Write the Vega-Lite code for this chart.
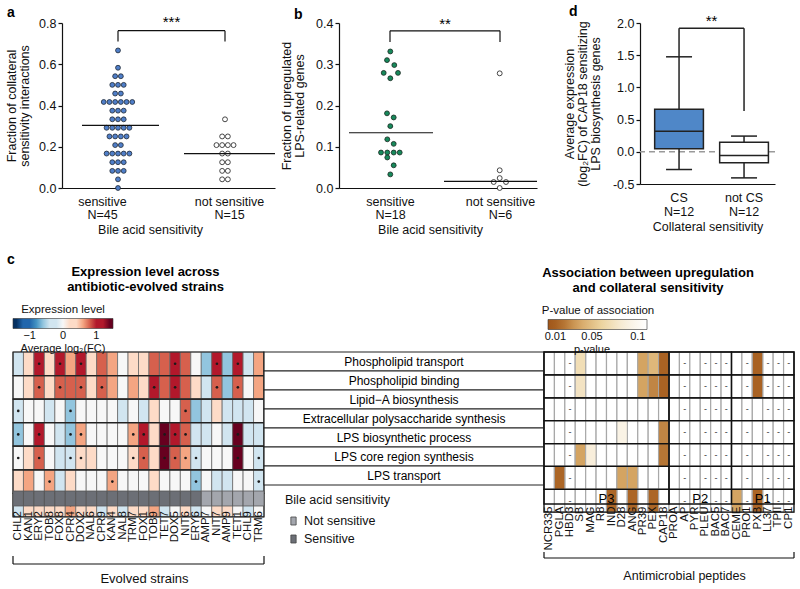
{
"$schema": "https://vega.github.io/schema/vega-lite/v6.json",
"background": "white",
"padding": {"left": 5, "top": 5, "right": 4, "bottom": 0},
"config": {
  "font": "Liberation Sans",
  "view": {"stroke": null},
  "axis": {"labelFont": "Liberation Sans", "titleFont": "Liberation Sans", "labelColor": "#111", "titleColor": "#111", "domainColor": "#111", "tickColor": "#111", "domainWidth": 1.2, "tickWidth": 1.2, "labelFontSize": 12.5, "titleFontSize": 12.5, "titleFontWeight": "normal", "grid": false},
  "legend": {"labelFont": "Liberation Sans", "titleFont": "Liberation Sans", "titleFontWeight": "normal", "labelColor": "#111", "titleColor": "#111"},
  "title": {"font": "Liberation Sans", "color": "#000"},
  "text": {"font": "Liberation Sans"}
},
"datasets": {
  "aDots": [
    {"g":"s","v":0.667,"x":56},{"g":"s","v":0.583,"x":56},
    {"g":"s","v":0.542,"x":53.15},{"g":"s","v":0.542,"x":58.85},
    {"g":"s","v":0.5,"x":50.3},{"g":"s","v":0.5,"x":56},{"g":"s","v":0.5,"x":61.7},
    {"g":"s","v":0.458,"x":53.15},{"g":"s","v":0.458,"x":58.85},
    {"g":"s","v":0.417,"x":41.75},{"g":"s","v":0.417,"x":47.45},{"g":"s","v":0.417,"x":53.15},{"g":"s","v":0.417,"x":58.85},{"g":"s","v":0.417,"x":64.55},{"g":"s","v":0.417,"x":70.25},
    {"g":"s","v":0.375,"x":50.3},{"g":"s","v":0.375,"x":56},{"g":"s","v":0.375,"x":61.7},
    {"g":"s","v":0.333,"x":50.3},{"g":"s","v":0.333,"x":56},{"g":"s","v":0.333,"x":61.7},
    {"g":"s","v":0.292,"x":44.6},{"g":"s","v":0.292,"x":50.3},{"g":"s","v":0.292,"x":56},{"g":"s","v":0.292,"x":61.7},{"g":"s","v":0.292,"x":67.4},
    {"g":"s","v":0.25,"x":47.45},{"g":"s","v":0.25,"x":53.15},{"g":"s","v":0.25,"x":58.85},{"g":"s","v":0.25,"x":64.55},
    {"g":"s","v":0.208,"x":53.15},{"g":"s","v":0.208,"x":58.85},
    {"g":"s","v":0.167,"x":44.6},{"g":"s","v":0.167,"x":50.3},{"g":"s","v":0.167,"x":56},{"g":"s","v":0.167,"x":61.7},{"g":"s","v":0.167,"x":67.4},
    {"g":"s","v":0.125,"x":50.3},{"g":"s","v":0.125,"x":56},{"g":"s","v":0.125,"x":61.7},
    {"g":"s","v":0.083,"x":50.3},{"g":"s","v":0.083,"x":56},{"g":"s","v":0.083,"x":61.7},
    {"g":"s","v":0.042,"x":56},{"g":"s","v":0,"x":56},
    {"g":"n","v":0.333,"x":163},
    {"g":"n","v":0.25,"x":160.15},{"g":"n","v":0.25,"x":165.85},
    {"g":"n","v":0.208,"x":154.45},{"g":"n","v":0.208,"x":160.15},{"g":"n","v":0.208,"x":165.85},{"g":"n","v":0.208,"x":171.55},
    {"g":"n","v":0.167,"x":160.15},{"g":"n","v":0.167,"x":165.85},
    {"g":"n","v":0.125,"x":160.15},{"g":"n","v":0.125,"x":165.85},
    {"g":"n","v":0.083,"x":160.15},{"g":"n","v":0.083,"x":165.85},
    {"g":"n","v":0.042,"x":160.15},{"g":"n","v":0.042,"x":165.85}
  ],
  "aLines": [
    {"x":20,"x2":97,"v":0.304,"v2":0.304},{"x":122,"x2":213,"v":0.167,"v2":0.167},
    {"x":56,"x2":163,"v":0.763,"v2":0.763},{"x":56,"x2":56,"v":0.71,"v2":0.763},{"x":163,"x2":163,"v":0.71,"v2":0.763}
  ],
  "bDots": [
    {"g":"s","v":0.331,"x":51.3},{"g":"s","v":0.31,"x":48},{"g":"s","v":0.298,"x":55.3},
    {"g":"s","v":0.279,"x":44.7},{"g":"s","v":0.279,"x":59},{"g":"s","v":0.266,"x":51.3},
    {"g":"s","v":0.181,"x":48},{"g":"s","v":0.171,"x":54.7},{"g":"s","v":0.15,"x":51.3},
    {"g":"s","v":0.118,"x":48.3},{"g":"s","v":0.107,"x":54.7},
    {"g":"s","v":0.086,"x":42},{"g":"s","v":0.086,"x":48.3},{"g":"s","v":0.086,"x":54.7},{"g":"s","v":0.086,"x":60.7},
    {"g":"s","v":0.074,"x":48.3},{"g":"s","v":0.055,"x":54.7},{"g":"s","v":0.033,"x":51.3},
    {"g":"n","v":0.278,"x":160.7},{"g":"n","v":0.043,"x":160.7},{"g":"n","v":0.024,"x":160.7},
    {"g":"n","v":0.0145,"x":154.7},{"g":"n","v":0.0145,"x":167},{"g":"n","v":0,"x":160.7}
  ],
  "bLines": [
    {"x":10,"x2":94,"v":0.134,"v2":0.134},{"x":105,"x2":198,"v":0.016,"v2":0.016},
    {"x":51,"x2":161,"v":0.381,"v2":0.381},{"x":51,"x2":51,"v":0.354,"v2":0.381},{"x":161,"x2":161,"v":0.354,"v2":0.381}
  ],
  "dStats": [
    {"c":"CS","lo":-0.275,"q1":0.047,"med":0.32,"q3":0.66,"hi":1.475},
    {"c":"not CS","lo":-0.405,"q1":-0.17,"med":-0.057,"q3":0.15,"hi":0.244}
  ],
  "strains": [
    {"s":"CHL2","g":"Sensitive","i":0,"j":1,"m":0.5},{"s":"KAN1","g":"Sensitive","i":1,"j":2,"m":1.5},{"s":"ERY2","g":"Sensitive","i":2,"j":3,"m":2.5},{"s":"TOB8","g":"Sensitive","i":3,"j":4,"m":3.5},
    {"s":"FOX8","g":"Sensitive","i":4,"j":5,"m":4.5},{"s":"CPR4","g":"Sensitive","i":5,"j":6,"m":5.5},{"s":"DOX2","g":"Sensitive","i":6,"j":7,"m":6.5},{"s":"NAL6","g":"Sensitive","i":7,"j":8,"m":7.5},
    {"s":"CPR9","g":"Sensitive","i":8,"j":9,"m":8.5},{"s":"KAN4","g":"Sensitive","i":9,"j":10,"m":9.5},{"s":"NAL8","g":"Sensitive","i":10,"j":11,"m":10.5},{"s":"TRM7","g":"Sensitive","i":11,"j":12,"m":11.5},
    {"s":"FOX1","g":"Sensitive","i":12,"j":13,"m":12.5},{"s":"TOB9","g":"Sensitive","i":13,"j":14,"m":13.5},{"s":"TET7","g":"Sensitive","i":14,"j":15,"m":14.5},{"s":"DOX5","g":"Sensitive","i":15,"j":16,"m":15.5},
    {"s":"NIT6","g":"Sensitive","i":16,"j":17,"m":16.5},{"s":"ERY6","g":"Sensitive","i":17,"j":18,"m":17.5},{"s":"AMP7","g":"Not sensitive","i":18,"j":19,"m":18.5},{"s":"NIT7","g":"Not sensitive","i":19,"j":20,"m":19.5},
    {"s":"AMP9","g":"Not sensitive","i":20,"j":21,"m":20.5},{"s":"TET1","g":"Not sensitive","i":21,"j":22,"m":21.5},{"s":"CHL9","g":"Not sensitive","i":22,"j":23,"m":22.5},{"s":"TRM6","g":"Not sensitive","i":23,"j":24,"m":23.5}
  ],
  "rows": [
    {"r":1,"n":"Phospholipid transport"},{"r":2,"n":"Phospholipid binding"},{"r":3,"n":"Lipid−A biosynthesis"},
    {"r":4,"n":"Extracellular polysaccharide synthesis"},{"r":5,"n":"LPS biosynthetic process"},
    {"r":6,"n":"LPS core region synthesis"},{"r":7,"n":"LPS transport"}
  ],
  "expr": [
    {"s":"CHL2","r":1,"v":-0.3,"d":0},{"s":"KAN1","r":1,"v":0.4,"d":0},{"s":"ERY2","r":1,"v":1.1,"d":1},{"s":"TOB8","r":1,"v":0.2,"d":0},{"s":"FOX8","r":1,"v":1.1,"d":1},{"s":"CPR4","r":1,"v":0.5,"d":0},{"s":"DOX2","r":1,"v":1.1,"d":1},{"s":"NAL6","r":1,"v":0.2,"d":0},{"s":"CPR9","r":1,"v":0.8,"d":0},{"s":"KAN4","r":1,"v":0.5,"d":0},{"s":"NAL8","r":1,"v":0,"d":0},{"s":"TRM7","r":1,"v":0.2,"d":0},{"s":"FOX1","r":1,"v":0.3,"d":0},{"s":"TOB9","r":1,"v":0.8,"d":0},{"s":"TET7","r":1,"v":0.8,"d":0},{"s":"DOX5","r":1,"v":1.1,"d":1},{"s":"NIT6","r":1,"v":0.8,"d":0},{"s":"ERY6","r":1,"v":0,"d":0},{"s":"AMP7","r":1,"v":-0.6,"d":0},{"s":"NIT7","r":1,"v":1.1,"d":1},{"s":"AMP9","r":1,"v":-0.6,"d":0},{"s":"TET1","r":1,"v":1.1,"d":1},{"s":"CHL9","r":1,"v":-0.3,"d":0},{"s":"TRM6","r":1,"v":0.5,"d":0},
    {"s":"CHL2","r":2,"v":0,"d":0},{"s":"KAN1","r":2,"v":0.4,"d":0},{"s":"ERY2","r":2,"v":0.8,"d":1},{"s":"TOB8","r":2,"v":0.2,"d":0},{"s":"FOX8","r":2,"v":0.8,"d":1},{"s":"CPR4","r":2,"v":0.8,"d":0},{"s":"DOX2","r":2,"v":0.8,"d":1},{"s":"NAL6","r":2,"v":0.2,"d":0},{"s":"CPR9","r":2,"v":0.8,"d":1},{"s":"KAN4","r":2,"v":0.5,"d":0},{"s":"NAL8","r":2,"v":0,"d":0},{"s":"TRM7","r":2,"v":0.5,"d":0},{"s":"FOX1","r":2,"v":0.2,"d":0},{"s":"TOB9","r":2,"v":1.1,"d":1},{"s":"TET7","r":2,"v":0.8,"d":0},{"s":"DOX5","r":2,"v":1.1,"d":1},{"s":"NIT6","r":2,"v":0.8,"d":0},{"s":"ERY6","r":2,"v":0.2,"d":0},{"s":"AMP7","r":2,"v":-0.3,"d":0},{"s":"NIT7","r":2,"v":0.8,"d":1},{"s":"AMP9","r":2,"v":-0.6,"d":0},{"s":"TET1","r":2,"v":0.8,"d":1},{"s":"CHL9","r":2,"v":0,"d":0},{"s":"TRM6","r":2,"v":0.5,"d":0},
    {"s":"CHL2","r":3,"v":-0.3,"d":1},{"s":"KAN1","r":3,"v":0,"d":0},{"s":"ERY2","r":3,"v":0,"d":0},{"s":"TOB8","r":3,"v":-0.3,"d":0},{"s":"FOX8","r":3,"v":0,"d":0},{"s":"CPR4","r":3,"v":-0.6,"d":1},{"s":"DOX2","r":3,"v":0,"d":0},{"s":"NAL6","r":3,"v":0,"d":0},{"s":"CPR9","r":3,"v":0,"d":0},{"s":"KAN4","r":3,"v":0,"d":0},{"s":"NAL8","r":3,"v":-0.3,"d":0},{"s":"TRM7","r":3,"v":0,"d":0},{"s":"FOX1","r":3,"v":-0.3,"d":0},{"s":"TOB9","r":3,"v":0.2,"d":0},{"s":"TET7","r":3,"v":0,"d":0},{"s":"DOX5","r":3,"v":0,"d":0},{"s":"NIT6","r":3,"v":0.8,"d":1},{"s":"ERY6","r":3,"v":-0.6,"d":0},{"s":"AMP7","r":3,"v":-0.3,"d":0},{"s":"NIT7","r":3,"v":0.2,"d":0},{"s":"AMP9","r":3,"v":-0.3,"d":0},{"s":"TET1","r":3,"v":-0.3,"d":0},{"s":"CHL9","r":3,"v":-0.3,"d":0},{"s":"TRM6","r":3,"v":0,"d":0},
    {"s":"CHL2","r":4,"v":-0.6,"d":1},{"s":"KAN1","r":4,"v":0,"d":0},{"s":"ERY2","r":4,"v":1.1,"d":1},{"s":"TOB8","r":4,"v":0,"d":0},{"s":"FOX8","r":4,"v":-0.3,"d":0},{"s":"CPR4","r":4,"v":-0.6,"d":1},{"s":"DOX2","r":4,"v":0.5,"d":1},{"s":"NAL6","r":4,"v":0,"d":0},{"s":"CPR9","r":4,"v":0,"d":0},{"s":"KAN4","r":4,"v":0,"d":0},{"s":"NAL8","r":4,"v":0,"d":0},{"s":"TRM7","r":4,"v":0.5,"d":1},{"s":"FOX1","r":4,"v":1.1,"d":1},{"s":"TOB9","r":4,"v":0.2,"d":0},{"s":"TET7","r":4,"v":1.4,"d":1},{"s":"DOX5","r":4,"v":1.1,"d":1},{"s":"NIT6","r":4,"v":0.8,"d":1},{"s":"ERY6","r":4,"v":-0.3,"d":0},{"s":"AMP7","r":4,"v":-0.3,"d":0},{"s":"NIT7","r":4,"v":0,"d":0},{"s":"AMP9","r":4,"v":-0.3,"d":0},{"s":"TET1","r":4,"v":1.4,"d":1},{"s":"CHL9","r":4,"v":-0.3,"d":0},{"s":"TRM6","r":4,"v":-0.3,"d":0},
    {"s":"CHL2","r":5,"v":0,"d":1},{"s":"KAN1","r":5,"v":0.2,"d":0},{"s":"ERY2","r":5,"v":0.8,"d":1},{"s":"TOB8","r":5,"v":0,"d":0},{"s":"FOX8","r":5,"v":-0.3,"d":0},{"s":"CPR4","r":5,"v":-0.3,"d":1},{"s":"DOX2","r":5,"v":0.2,"d":1},{"s":"NAL6","r":5,"v":0.2,"d":0},{"s":"CPR9","r":5,"v":0,"d":0},{"s":"KAN4","r":5,"v":0,"d":0},{"s":"NAL8","r":5,"v":0,"d":0},{"s":"TRM7","r":5,"v":0.2,"d":1},{"s":"FOX1","r":5,"v":0.8,"d":1},{"s":"TOB9","r":5,"v":0.2,"d":0},{"s":"TET7","r":5,"v":1.4,"d":1},{"s":"DOX5","r":5,"v":0.8,"d":1},{"s":"NIT6","r":5,"v":0.5,"d":1},{"s":"ERY6","r":5,"v":-0.3,"d":1},{"s":"AMP7","r":5,"v":0,"d":0},{"s":"NIT7","r":5,"v":0,"d":0},{"s":"AMP9","r":5,"v":0,"d":0},{"s":"TET1","r":5,"v":1.4,"d":1},{"s":"CHL9","r":5,"v":0,"d":0},{"s":"TRM6","r":5,"v":-0.3,"d":1},
    {"s":"CHL2","r":6,"v":0.2,"d":0},{"s":"KAN1","r":6,"v":0.5,"d":0},{"s":"ERY2","r":6,"v":0,"d":0},{"s":"TOB8","r":6,"v":0.5,"d":1},{"s":"FOX8","r":6,"v":-0.3,"d":0},{"s":"CPR4","r":6,"v":0.2,"d":0},{"s":"DOX2","r":6,"v":0,"d":0},{"s":"NAL6","r":6,"v":0,"d":0},{"s":"CPR9","r":6,"v":0,"d":0},{"s":"KAN4","r":6,"v":0.5,"d":1},{"s":"NAL8","r":6,"v":0,"d":0},{"s":"TRM7","r":6,"v":0,"d":0},{"s":"FOX1","r":6,"v":0,"d":0},{"s":"TOB9","r":6,"v":0.2,"d":0},{"s":"TET7","r":6,"v":0,"d":0},{"s":"DOX5","r":6,"v":0,"d":0},{"s":"NIT6","r":6,"v":0,"d":0},{"s":"ERY6","r":6,"v":-0.6,"d":1},{"s":"AMP7","r":6,"v":0,"d":0},{"s":"NIT7","r":6,"v":-0.3,"d":0},{"s":"AMP9","r":6,"v":-0.3,"d":0},{"s":"TET1","r":6,"v":0,"d":0},{"s":"CHL9","r":6,"v":0,"d":0},{"s":"TRM6","r":6,"v":-0.3,"d":1},
    {"s":"CHL2","r":7,"v":-0.3,"d":0},{"s":"KAN1","r":7,"v":0.2,"d":0},{"s":"ERY2","r":7,"v":0.2,"d":0},{"s":"TOB8","r":7,"v":0.2,"d":0},{"s":"FOX8","r":7,"v":0.2,"d":0},{"s":"CPR4","r":7,"v":0.5,"d":1},{"s":"DOX2","r":7,"v":0.2,"d":0},{"s":"NAL6","r":7,"v":0.2,"d":0},{"s":"CPR9","r":7,"v":-0.3,"d":0},{"s":"KAN4","r":7,"v":0.2,"d":0},{"s":"NAL8","r":7,"v":-0.3,"d":0},{"s":"TRM7","r":7,"v":0.2,"d":0},{"s":"FOX1","r":7,"v":0.2,"d":0},{"s":"TOB9","r":7,"v":0.5,"d":0},{"s":"TET7","r":7,"v":-0.3,"d":0},{"s":"DOX5","r":7,"v":0,"d":0},{"s":"NIT6","r":7,"v":0.2,"d":0},{"s":"ERY6","r":7,"v":-0.3,"d":0},{"s":"AMP7","r":7,"v":0,"d":0},{"s":"NIT7","r":7,"v":0.2,"d":0},{"s":"AMP9","r":7,"v":0.2,"d":0},{"s":"TET1","r":7,"v":0,"d":0},{"s":"CHL9","r":7,"v":-0.3,"d":0},{"s":"TRM6","r":7,"v":0,"d":0}
  ],
  "peps": [
    {"p":"NCR335","na":0,"m":0.5,"rs":[1,2,3,4,5,6,7]},{"p":"PGLA","na":0,"m":1.5,"rs":[1,2,3,4,5,6,7]},{"p":"HBD3","na":1,"m":2.5,"rs":[1,2,3,4,5,6,7]},{"p":"SB","na":0,"m":3.5,"rs":[1,2,3,4,5,6,7]},
    {"p":"MAG","na":0,"m":4.5,"rs":[1,2,3,4,5,6,7]},{"p":"R8","na":0,"m":5.5,"rs":[1,2,3,4,5,6,7]},{"p":"IND","na":0,"m":6.5,"rs":[1,2,3,4,5,6,7]},{"p":"D28","na":0,"m":7.5,"rs":[1,2,3,4,5,6,7]},
    {"p":"ANG","na":0,"m":8.5,"rs":[1,2,3,4,5,6,7]},{"p":"PR39","na":0,"m":9.5,"rs":[1,2,3,4,5,6,7]},{"p":"PEX","na":0,"m":10.5,"rs":[1,2,3,4,5,6,7]},{"p":"CAP18","na":0,"m":11.5,"rs":[1,2,3,4,5,6,7]},
    {"p":"PROA","na":0,"m":12.5,"rs":[1,2,3,4,5,6,7]},{"p":"AP","na":1,"m":13.5,"rs":[1,2,3,4,5,6,7]},{"p":"PYR","na":0,"m":14.5,"rs":[1,2,3,4,5,6,7]},{"p":"PLEU","na":1,"m":15.5,"rs":[1,2,3,4,5,6,7]},
    {"p":"BAC5","na":1,"m":16.5,"rs":[1,2,3,4,5,6,7]},{"p":"BAC7","na":1,"m":17.5,"rs":[1,2,3,4,5,6,7]},{"p":"CEME","na":0,"m":18.5,"rs":[1,2,3,4,5,6,7]},{"p":"PRO1","na":1,"m":19.5,"rs":[1,2,3,4,5,6,7]},
    {"p":"PXB","na":0,"m":20.5,"rs":[1,2,3,4,5,6,7]},{"p":"LL37","na":1,"m":21.5,"rs":[1,2,3,4,5,6,7]},{"p":"TPII","na":1,"m":22.5,"rs":[1,2,3,4,5,6,7]},{"p":"CP1","na":1,"m":23.5,"rs":[1,2,3,4,5,6,7]}
  ],
  "pv": [
    {"p":"SB","r":1,"v":0.07},{"p":"PR39","r":1,"v":0.035},{"p":"PEX","r":1,"v":0.045},{"p":"CAP18","r":1,"v":0.012},{"p":"PXB","r":1,"v":0.012},
    {"p":"SB","r":2,"v":0.075},{"p":"PR39","r":2,"v":0.035},{"p":"PEX","r":2,"v":0.025},{"p":"CAP18","r":2,"v":0.012},{"p":"PXB","r":2,"v":0.012},
    {"p":"D28","r":4,"v":0.092},{"p":"CAP18","r":4,"v":0.025},
    {"p":"SB","r":5,"v":0.035},{"p":"MAG","r":5,"v":0.085},{"p":"CAP18","r":5,"v":0.02},
    {"p":"PGLA","r":6,"v":0.015},{"p":"D28","r":6,"v":0.035},{"p":"ANG","r":6,"v":0.035},
    {"p":"IND","r":7,"v":0.015},{"p":"ANG","r":7,"v":0.015},{"p":"PEX","r":7,"v":0.015},{"p":"CEME","r":7,"v":0.035},{"p":"PXB","r":7,"v":0.015}
  ],
  "groups": [
    {"g":"P3","a":0,"b":12,"m":6},{"g":"P2","a":12,"b":18,"m":15},{"g":"P1","a":18,"b":24,"m":21}
  ],
  "brk": [
    {"a":0,"b":1,"c":0,"d":0},{"a":0,"b":0,"c":0,"d":1},{"a":1,"b":1,"c":0,"d":1}
  ]
},
"spacing": 17,
"resolve": {"scale": {"fill": "independent", "color": "independent", "x": "independent", "y": "independent"}},
"vconcat": [
 {
  "bounds": "flush",
  "spacing": 0,
  "resolve": {"scale": {"fill": "independent", "color": "independent", "x": "independent", "y": "independent"}},
  "hconcat": [
  {"width": 49, "height": 10, "data": {"values": [{"z": 1}]}, "mark": {"type": "point", "opacity": 0}},
  {
    "width": 213, "height": 165,
    "title": {"text": "a", "anchor": "start", "frame": "group", "dx": -55, "fontSize": 14, "fontWeight": "bold", "offset": -5},
    "encoding": {
      "x": {"field": "x", "type": "quantitative", "scale": {"domain": [0, 213], "nice": false, "zero": false},
            "axis": {"values": [40, 167], "labelExpr": "datum.value < 100 ? ['sensitive', 'N=45'] : ['not sensitive', 'N=15']", "ticks": false, "labelPadding": 7, "labelFlush": false, "labelOverlap": false, "labelLineHeight": 13.5, "title": "Bile acid sensitivity", "titleX": 88, "titleY": 35, "titleBaseline": "top"}},
      "y": {"field": "v", "type": "quantitative", "scale": {"domain": [0, 0.8], "nice": false, "zero": false},
            "axis": {"values": [0, 0.2, 0.4, 0.6, 0.8], "format": ".1f", "title": ["Fraction of collateral", "sensitivity interactions"], "titlePadding": 7, "tickSize": 4, "labelPadding": 2, "titleLineHeight": 13, "labelOverlap": false}}
    },
    "layer": [
      {"data": {"name": "aDots"}, "transform": [{"filter": "datum.g == 's'"}], "mark": {"type": "circle", "fill": "#4f7ec8", "stroke": "#1d2735", "strokeWidth": 0.8, "size": 24, "opacity": 1}},
      {"data": {"name": "aDots"}, "transform": [{"filter": "datum.g == 'n'"}], "mark": {"type": "circle", "fill": "white", "stroke": "#333", "strokeWidth": 0.9, "size": 24, "opacity": 1}},
      {"data": {"name": "aLines"}, "mark": {"type": "rule", "color": "#111", "strokeWidth": 1.2}, "encoding": {"x2": {"field": "x2"}, "y2": {"field": "v2"}}},
      {"data": {"values": [{"x": 109.5, "v": 0.78, "t": "***"}]}, "mark": {"type": "text", "fontSize": 15, "baseline": "alphabetic", "color": "#000"}, "encoding": {"text": {"field": "t"}}}
    ]
  },
  {"width": 64, "height": 10, "data": {"values": [{"z": 1}]}, "mark": {"type": "point", "opacity": 0}},
  {
    "width": 198, "height": 165,
    "title": {"text": "b", "anchor": "start", "frame": "group", "dx": -45, "fontSize": 14, "fontWeight": "bold", "offset": -5},
    "encoding": {
      "x": {"field": "x", "type": "quantitative", "scale": {"domain": [0, 198], "nice": false, "zero": false},
            "axis": {"values": [51, 161], "labelExpr": "datum.value < 100 ? ['sensitive', 'N=18'] : ['not sensitive', 'N=6']", "ticks": false, "labelPadding": 7, "labelFlush": false, "labelOverlap": false, "labelLineHeight": 13.5, "title": "Bile acid sensitivity", "titleX": 91, "titleY": 35, "titleBaseline": "top"}},
      "y": {"field": "v", "type": "quantitative", "scale": {"domain": [0, 0.4], "nice": false, "zero": false},
            "axis": {"values": [0, 0.1, 0.2, 0.3, 0.4], "format": ".1f", "title": ["Fraction of upregulated", "LPS-related genes"], "titlePadding": 9, "tickSize": 4, "labelPadding": 2, "titleLineHeight": 13, "labelOverlap": false}}
    },
    "layer": [
      {"data": {"name": "bDots"}, "transform": [{"filter": "datum.g == 's'"}], "mark": {"type": "circle", "fill": "#17895b", "stroke": "#14261d", "strokeWidth": 0.8, "size": 24, "opacity": 1}},
      {"data": {"name": "bDots"}, "transform": [{"filter": "datum.g == 'n'"}], "mark": {"type": "circle", "fill": "white", "stroke": "#333", "strokeWidth": 0.9, "size": 24, "opacity": 1}},
      {"data": {"name": "bLines"}, "mark": {"type": "rule", "color": "#111", "strokeWidth": 1.2}, "encoding": {"x2": {"field": "x2"}, "y2": {"field": "v2"}}},
      {"data": {"values": [{"x": 106, "v": 0.385, "t": "**"}]}, "mark": {"type": "text", "fontSize": 15, "baseline": "alphabetic", "color": "#000"}, "encoding": {"text": {"field": "t"}}}
    ]
  },
  {"width": 103, "height": 10, "data": {"values": [{"z": 1}]}, "mark": {"type": "point", "opacity": 0}},
  {
    "width": 135, "height": 161,
    "title": {"text": "d", "anchor": "start", "frame": "group", "dx": -71, "fontSize": 14, "fontWeight": "bold", "offset": -5},
    "encoding": {
      "y": {"type": "quantitative", "scale": {"domain": [-0.5, 2], "nice": false, "zero": false},
            "axis": {"values": [-0.5, 0, 0.5, 1, 1.5, 2], "labelExpr": "datum.value < 0 ? '-0.5' : format(datum.value, '.1f')", "labelOverlap": false, "labelFlush": false, "title": ["Average expression", "(log₂FC) of CAP18 sensitizing", "LPS biosynthesis genes"], "titlePadding": 10, "tickSize": 4, "labelPadding": 2, "titleLineHeight": 13}}
    },
    "layer": [
      {"data": {"values": [{"v": 0}]}, "mark": {"type": "rule", "color": "#9a9a9a", "strokeDash": [6, 4], "strokeWidth": 1.5},
       "encoding": {"y": {"field": "v"}}},
      {"data": {"name": "dStats"}, "mark": {"type": "rule", "color": "#222", "strokeWidth": 1.5},
       "encoding": {
         "x": {"field": "c", "type": "nominal", "scale": {"type": "band", "domain": ["CS", "not CS"], "paddingInner": 0.25, "paddingOuter": 0.1635, "align": 0.69},
               "axis": {"labelExpr": "datum.value == 'CS' ? ['CS', 'N=12'] : ['not CS', 'N=12']", "ticks": false, "labelPadding": 7, "labelAngle": 0, "labelLineHeight": 14, "title": "Collateral sensitivity", "titlePadding": 3}},
         "y": {"field": "lo"},
         "y2": {"field": "hi"}}},
      {"data": {"name": "dStats"}, "mark": {"type": "tick", "color": "#222", "size": 26, "thickness": 1.5, "opacity": 1},
       "encoding": {"x": {"field": "c", "type": "nominal"}, "y": {"field": "lo"}}},
      {"data": {"name": "dStats"}, "mark": {"type": "tick", "color": "#222", "size": 26, "thickness": 1.5, "opacity": 1},
       "encoding": {"x": {"field": "c", "type": "nominal"}, "y": {"field": "hi"}}},
      {"data": {"name": "dStats"}, "mark": {"type": "bar", "stroke": "#222", "strokeWidth": 1.5},
       "encoding": {"x": {"field": "c", "type": "nominal"}, "y": {"field": "q1"}, "y2": {"field": "q3"},
         "fill": {"field": "c", "type": "nominal", "scale": {"domain": ["CS", "not CS"], "range": ["#4f87c8", "#ffffff"]}, "legend": null}}},
      {"data": {"name": "dStats"}, "mark": {"type": "tick", "color": "#222", "size": 49, "thickness": 1.6, "opacity": 1},
       "encoding": {"x": {"field": "c", "type": "nominal"}, "y": {"field": "med"}}},
      {"data": {"values": [{"c": "CS", "c2": "not CS", "v": 1.917, "v2": 1.917}]}, "mark": {"type": "rule", "color": "#222", "strokeWidth": 1.5},
       "encoding": {"x": {"field": "c", "type": "nominal", "bandPosition": 0.5}, "x2": {"field": "c2", "bandPosition": 0.5}, "y": {"field": "v"}, "y2": {"field": "v2"}}},
      {"data": {"values": [{"c": "CS", "v": 1.475, "v2": 1.917}, {"c": "not CS", "v": 0.634, "v2": 1.917}]}, "mark": {"type": "rule", "color": "#222", "strokeWidth": 1.5},
       "encoding": {"x": {"field": "c", "type": "nominal"}, "y": {"field": "v"}, "y2": {"field": "v2"}}},
      {"data": {"values": [{"c": "CS", "v": 1.953, "t": "**"}]}, "mark": {"type": "text", "fontSize": 15, "baseline": "alphabetic", "dx": 32.5, "color": "#000"},
       "encoding": {"x": {"field": "c", "type": "nominal"}, "y": {"field": "v"}, "text": {"field": "t"}}}
    ]
  }
  ]
 },
 {
  "bounds": "flush",
  "spacing": 0,
  "resolve": {"scale": {"fill": "independent", "color": "independent", "x": "independent", "y": "independent"}},
  "hconcat": [
  {
    "width": 251, "height": 212,
    "title": {"text": ["Expression level across", "antibiotic-evolved strains"], "fontSize": 13, "fontWeight": "bold", "anchor": "middle", "frame": "group", "dx": 7, "offset": 10, "lineHeight": 15},
    "resolve": {"scale": {"x": "independent", "y": "independent", "fill": "independent"}, "axis": {"x": "independent", "y": "independent"}},
    "layer": [
      {
        "layer": [
          {"data": {"name": "expr"}, "mark": {"type": "rect", "stroke": "#6a6a6a", "strokeWidth": 0.8},
           "encoding": {
             "x": {"field": "s", "type": "nominal", "scale": {"domain": ["CHL2","KAN1","ERY2","TOB8","FOX8","CPR4","DOX2","NAL6","CPR9","KAN4","NAL8","TRM7","FOX1","TOB9","TET7","DOX5","NIT6","ERY6","AMP7","NIT7","AMP9","TET1","CHL9","TRM6"], "paddingInner": 0, "paddingOuter": 0}, "axis": null},
             "y": {"field": "r", "type": "ordinal", "scale": {"domain": [1,2,3,4,5,6,7], "paddingInner": 0, "paddingOuter": 2.079, "align": 0}, "axis": null},
             "fill": {"field": "v", "type": "quantitative",
               "scale": {"domain": [-1.5,-1.2273,-1.2272,-0.9545,-0.9544,-0.6818,-0.6817,-0.4091,-0.409,-0.1364,-0.1363,0.1364,0.1365,0.4091,0.4092,0.6818,0.6819,0.9545,0.9546,1.2273,1.2274,1.5],
                         "range": ["#053061","#053061","#2166ac","#2166ac","#4393c3","#4393c3","#92c5de","#92c5de","#d1e5f0","#d1e5f0","#f7f7f7","#f7f7f7","#fddbc7","#fddbc7","#f4a582","#f4a582","#d6604d","#d6604d","#b2182b","#b2182b","#67001f","#67001f"],
                         "interpolate": "rgb", "clamp": true},
               "legend": {"orient": "none", "legendX": 0, "legendY": -48, "direction": "horizontal", "title": "Expression level", "titleAnchor": "middle", "titleFontSize": 11.5, "titlePadding": 3, "gradientLength": 100, "gradientThickness": 10, "gradientStrokeColor": "#333", "gradientStrokeWidth": 0.6, "values": [-1, 0, 1], "labelExpr": "datum.value == 0 ? ['0', 'Average log₂(FC)'] : (datum.value < 0 ? '−1' : '1')", "labelFontSize": 11, "labelOffset": 1, "labelOverlap": false}}
           }},
          {"data": {"name": "expr"}, "transform": [{"filter": "datum.d == 1"}], "mark": {"type": "circle", "size": 7, "color": "#1a1a1a", "opacity": 1},
           "encoding": {
             "x": {"field": "s", "type": "nominal", "scale": {"domain": ["CHL2","KAN1","ERY2","TOB8","FOX8","CPR4","DOX2","NAL6","CPR9","KAN4","NAL8","TRM7","FOX1","TOB9","TET7","DOX5","NIT6","ERY6","AMP7","NIT7","AMP9","TET1","CHL9","TRM6"], "paddingInner": 0, "paddingOuter": 0}, "axis": null},
             "y": {"field": "r", "type": "ordinal", "scale": {"domain": [1,2,3,4,5,6,7], "paddingInner": 0, "paddingOuter": 2.079, "align": 0}, "axis": null}}},
          {"data": {"name": "rows"}, "mark": {"type": "rect", "fill": "white", "fillOpacity": 0, "stroke": "#222", "strokeWidth": 1.2},
           "encoding": {"y": {"field": "r", "type": "ordinal", "scale": {"domain": [1,2,3,4,5,6,7], "paddingInner": 0, "paddingOuter": 2.079, "align": 0}, "axis": null}}}
        ]
      },
      {"data": {"name": "strains"}, "mark": {"type": "rect", "stroke": "#555", "strokeWidth": 0.8},
       "encoding": {
         "x": {"field": "i", "type": "quantitative", "scale": {"domain": [0, 24], "nice": false, "zero": false}, "axis": null},
         "x2": {"field": "j"},
         "y": {"datum": 7.316, "type": "quantitative", "scale": {"domain": [0, 11.158], "reverse": true, "nice": false, "zero": false}, "axis": null},
         "y2": {"datum": 8.105},
         "fill": {"field": "g", "type": "nominal", "scale": {"domain": ["Not sensitive", "Sensitive"], "range": ["#a3a6ad", "#6c6f76"]},
           "legend": {"orient": "none", "legendX": 272, "legendY": 142, "title": "Bile acid sensitivity", "titleFontSize": 12.5, "labelFontSize": 12.5, "symbolType": "M-0.33,-0.5H0.33V0.5H-0.33Z", "symbolSize": 256, "symbolStrokeColor": "#444", "symbolStrokeWidth": 0.8, "rowPadding": 3, "titlePadding": 6, "labelOffset": 2}}
       }},
      {"data": {"name": "strains"}, "mark": {"type": "text", "angle": 270, "align": "right", "baseline": "middle", "fontSize": 11.5, "color": "#111"},
       "encoding": {
         "x": {"field": "m", "type": "quantitative", "scale": {"domain": [0, 24], "nice": false, "zero": false}, "axis": null},
         "y": {"datum": 8.368, "type": "quantitative", "scale": {"domain": [0, 11.158], "reverse": true, "nice": false, "zero": false}, "axis": null},
         "text": {"field": "s"}
       }},
      {"data": {"name": "brk"}, "mark": {"type": "rule", "color": "#111", "strokeWidth": 1.2},
       "encoding": {
         "x": {"field": "a", "type": "quantitative", "scale": {"domain": [0, 1], "nice": false},
               "axis": {"orient": "bottom", "labels": false, "ticks": false, "domain": false, "title": "Evolved strains", "titleFontSize": 13, "titleX": 131, "titleY": 8, "titleBaseline": "top"}},
         "x2": {"field": "b"},
         "y": {"field": "c", "type": "quantitative", "scale": {"domain": [0, 26.5], "nice": false}, "axis": null},
         "y2": {"field": "d"}
       }}
    ]
  },
  {
    "width": 280, "height": 133,
    "title": {"text": "c", "anchor": "start", "frame": "group", "dx": -257, "offset": 84, "fontSize": 14, "fontWeight": "bold"},
    "data": {"name": "rows"},
    "encoding": {"y": {"field": "r", "type": "ordinal", "scale": {"domain": [1,2,3,4,5,6,7], "paddingInner": 0, "paddingOuter": 0}, "axis": null}},
    "layer": [
      {"mark": {"type": "rect", "fill": "white", "stroke": "#222", "strokeWidth": 1.2}},
      {"mark": {"type": "text", "fontSize": 12, "color": "#000"}, "encoding": {"text": {"field": "n"}}}
    ]
  },
  {
    "width": 250, "height": 206,
    "title": {"text": ["Association between upregulation", "and collateral sensitivity"], "fontSize": 13, "fontWeight": "bold", "anchor": "middle", "frame": "group", "dx": -21, "offset": 10, "lineHeight": 15},
    "resolve": {"scale": {"x": "independent", "y": "independent", "fill": "independent"}, "axis": {"x": "independent", "y": "independent"}},
    "layer": [
      {
        "layer": [
          {"data": {"name": "peps"}, "transform": [{"flatten": ["rs"], "as": ["r"]}], "mark": {"type": "rect", "fill": "white", "stroke": "#a8a8a8", "strokeWidth": 1.2},
           "encoding": {
             "x": {"field": "p", "type": "nominal", "scale": {"domain": ["NCR335","PGLA","HBD3","SB","MAG","R8","IND","D28","ANG","PR39","PEX","CAP18","PROA","AP","PYR","PLEU","BAC5","BAC7","CEME","PRO1","PXB","LL37","TPII","CP1"], "paddingInner": 0, "paddingOuter": 0}, "axis": null},
             "y": {"field": "r", "type": "ordinal", "scale": {"domain": [1,2,3,4,5,6,7], "paddingInner": 0, "paddingOuter": 1.921, "align": 0}, "axis": null}}},
          {"data": {"name": "pv"}, "mark": {"type": "rect", "stroke": "#a8a8a8", "strokeWidth": 1},
           "encoding": {
             "x": {"field": "p", "type": "nominal", "scale": {"domain": ["NCR335","PGLA","HBD3","SB","MAG","R8","IND","D28","ANG","PR39","PEX","CAP18","PROA","AP","PYR","PLEU","BAC5","BAC7","CEME","PRO1","PXB","LL37","TPII","CP1"], "paddingInner": 0, "paddingOuter": 0}, "axis": null},
             "y": {"field": "r", "type": "ordinal", "scale": {"domain": [1,2,3,4,5,6,7], "paddingInner": 0, "paddingOuter": 1.921, "align": 0}, "axis": null},
             "fill": {"field": "v", "type": "quantitative",
               "scale": {"domain": [0.002, 0.015, 0.035, 0.06, 0.085, 0.11], "range": ["#a0561a", "#ac6626", "#d4a462", "#ecd39e", "#f8eedb", "#ffffff"], "clamp": true, "interpolate": "rgb"},
               "legend": {"orient": "none", "legendX": -2, "legendY": -47, "direction": "horizontal", "title": "P-value of association", "titleAnchor": "middle", "titleFontSize": 11.5, "titlePadding": 3, "gradientLength": 99, "gradientThickness": 10, "gradientStrokeColor": "#333", "gradientStrokeWidth": 0.6, "values": [0.01, 0.05, 0.1], "labelExpr": "datum.value < 0.03 ? '0.01' : (datum.value < 0.07 ? ['0.05', 'p-value'] : '0.1')", "labelFontSize": 11, "labelOffset": 1, "labelOverlap": false}}
           }},
          {"data": {"name": "peps"}, "transform": [{"flatten": ["rs"], "as": ["r"]}, {"filter": "datum.na == 1"}], "mark": {"type": "text", "text": "-", "fontSize": 9, "color": "#333"},
           "encoding": {
             "x": {"field": "p", "type": "nominal", "scale": {"domain": ["NCR335","PGLA","HBD3","SB","MAG","R8","IND","D28","ANG","PR39","PEX","CAP18","PROA","AP","PYR","PLEU","BAC5","BAC7","CEME","PRO1","PXB","LL37","TPII","CP1"], "paddingInner": 0, "paddingOuter": 0}, "axis": null},
             "y": {"field": "r", "type": "ordinal", "scale": {"domain": [1,2,3,4,5,6,7], "paddingInner": 0, "paddingOuter": 1.921, "align": 0}, "axis": null}}},
          {"data": {"name": "rows"}, "mark": {"type": "rect", "fill": "white", "fillOpacity": 0, "stroke": "#111", "strokeWidth": 1.2},
           "encoding": {"y": {"field": "r", "type": "ordinal", "scale": {"domain": [1,2,3,4,5,6,7], "paddingInner": 0, "paddingOuter": 1.921, "align": 0}, "axis": null}}}
        ]
      },
      {"data": {"name": "groups"}, "mark": {"type": "rect", "fill": "white", "fillOpacity": 0, "stroke": "#111", "strokeWidth": 1.3},
       "encoding": {
         "x": {"field": "a", "type": "quantitative", "scale": {"domain": [0, 24], "nice": false}, "axis": null},
         "x2": {"field": "b"},
         "y": {"datum": "g", "type": "nominal", "scale": {"domain": ["g"], "paddingInner": 0, "paddingOuter": 0.1776, "align": 0}, "axis": null}
       }},
      {"data": {"name": "groups"}, "mark": {"type": "text", "fontSize": 13, "color": "#000"},
       "encoding": {
         "x": {"field": "m", "type": "quantitative", "scale": {"domain": [0, 24], "nice": false}, "axis": null},
         "y": {"datum": "t", "type": "nominal", "scale": {"domain": ["t"], "paddingInner": 0, "paddingOuter": 4.921, "align": 0.7112}, "axis": null},
         "text": {"field": "g"}
       }},
      {"data": {"name": "peps"}, "mark": {"type": "text", "angle": 270, "align": "right", "baseline": "middle", "fontSize": 11.5, "color": "#111"},
       "encoding": {
         "x": {"field": "m", "type": "quantitative", "scale": {"domain": [0, 24], "nice": false, "zero": false}, "axis": null},
         "y": {"datum": "u", "type": "nominal", "scale": {"domain": ["u"], "paddingInner": 0, "paddingOuter": 51, "align": 0.75}, "axis": null},
         "text": {"field": "p"}
       }},
      {"data": {"name": "brk"}, "mark": {"type": "rule", "color": "#111", "strokeWidth": 1.2},
       "encoding": {
         "x": {"field": "a", "type": "quantitative", "scale": {"domain": [0, 1], "nice": false},
               "axis": {"orient": "bottom", "labels": false, "ticks": false, "domain": false, "title": "Antimicrobial peptides", "titleFontSize": 12.5, "titleX": 140, "titleY": 11, "titleBaseline": "top"}},
         "x2": {"field": "b"},
         "y": {"field": "c", "type": "quantitative", "scale": {"domain": [0, 34.33], "nice": false}, "axis": null},
         "y2": {"field": "d"}
       }}
    ]
  }
  ]
 }
]
}
